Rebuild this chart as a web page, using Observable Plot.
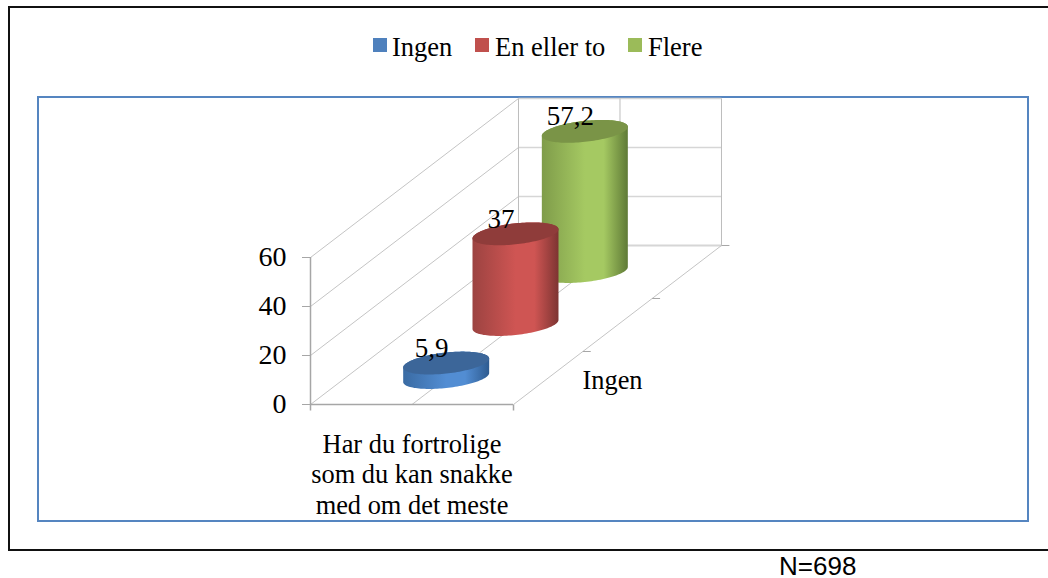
<!DOCTYPE html>
<html><head><meta charset="utf-8">
<script src="https://cdn.jsdelivr.net/npm/d3@7"></script>
<script src="https://cdn.jsdelivr.net/npm/@observablehq/plot@0.6"></script>
<style>
html,body{margin:0;padding:0;background:#fff;}
#page{position:relative;width:1048px;height:578px;overflow:hidden;font-family:"Liberation Serif",serif;color:#000;}
#page svg{position:absolute;left:0;top:0;background:transparent;}
.box{position:absolute;box-sizing:border-box;}
.lg{position:absolute;font-size:26.5px;line-height:30px;white-space:nowrap;top:32px;}
.sw{position:absolute;width:14px;height:14px;top:38px;}
#note{position:absolute;left:779px;top:555px;font:26px/23px "Liberation Sans",sans-serif;}
</style></head><body>
<div id="page">
<div class="box" style="left:8px;top:6px;width:1042px;height:545px;border:2px solid #111;"></div>
<div class="box" style="left:37px;top:96px;width:992px;height:426px;border:2px solid #5585c0;"></div>
<div class="sw" style="left:373px;background:#4f81bd"></div><div class="lg" style="left:392px">Ingen</div>
<div class="sw" style="left:475px;background:#c0504d"></div><div class="lg" style="left:495px">En eller to</div>
<div class="sw" style="left:628px;background:#9bbb59"></div><div class="lg" style="left:648px">Flere</div>
<div id="note">N=698</div>
</div>
<script>
const seriesNames = ["Ingen", "En eller to", "Flere"];
const seriesValues = [5.9, 37, 57.2];
const valueLabels = ["5,9", "37", "57,2"];
const valueTicks = [0, 20, 40, 60];
const categoryLabel = "Har du fortrolige\nsom du kan snakke\nmed om det meste";
const depthLabel = "Ingen";
const bodyStops = [["#3a6ba3","#528dd3","#2e5b90"],["#9c4341","#cf5553","#7d3432"],["#7f9c4a","#a5c962","#5f7a36"]];
const capColors = ["#3c6699","#8f3c3a","#7a9447"];

// oblique projection: depth (0..1) shifts the point along both chart scales
const depthX = 1.0246, depthY = 64.9;
const halfW = 0.2118, halfH = 4.29, tilt = 1.84;
const gridColor = "#c4c4c4", axisColor = "#a6a6a6";

const seg = (x1,d1,v1,x2,d2,v2) => ({x1:x1+d1*depthX, y1:v1+d1*depthY, x2:x2+d2*depthX, y2:v2+d2*depthY});
const leftWall = valueTicks.map(v => seg(0,0,v,0,1,v));
const backWall = valueTicks.slice(1).map(v => seg(0,1,v,1,1,v));
const uprights = [0,0.5,1].map(x => seg(x,1,0,x,1,60));
const floor = [seg(0.5,0,0,0.5,1,0), seg(1,0,0,1,1,0)];
const ticksDown = [0,1].map(x => ({x1:x,x2:x,y1:0,y2:-2.45}));
const ticksRight = [1/3,2/3,1].map(d => { const s = seg(1,d,0,1,d,0); return {...s, x2:s.x1+0.039}; });

const outline = (cx, base, top) => d3.range(0,61).map(i => {
  const u = -Math.cos(Math.PI*i/60), r = Math.sqrt(Math.max(0,1-u*u));
  return {x: cx+u*halfW, lo: base-halfH*r+tilt*u, hi: top+halfH*r+tilt*u, capLo: top-halfH*r+tilt*u};
});
const cyl = seriesValues.map((v,i) => {
  const d = (i+0.5)/3, cx = 0.5+d*depthX, base = d*depthY;
  return {i, cx, top: base+v, pts: outline(cx, base, base+v)};
});
const cylMarks = [2,1,0].flatMap(i => [
  Plot.area(cyl[i].pts, {x1:"x", y1:"lo", y2:"hi", fill:`url(#g${i})`, curve:"linear"}),
  Plot.area(cyl[i].pts, {x1:"x", y1:"capLo", y2:"hi", fill:capColors[i], curve:"linear"})
]);
const serif = "Liberation Serif";
const plot = Plot.plot({
  width:1048, height:578,
  marginLeft:310, marginRight:535, marginTop:257, marginBottom:174,
  x:{domain:[0,1], axis:null},
  y:{domain:[0,60]},
  style:{background:"transparent", overflow:"visible"},
  marks:[
    Plot.link(leftWall,{x1:"x1",y1:"y1",x2:"x2",y2:"y2",stroke:gridColor,strokeWidth:1}),
    Plot.link(backWall,{x1:"x1",y1:"y1",x2:"x2",y2:"y2",stroke:"#d6d6d6",strokeWidth:1.5}),
    Plot.link(uprights,{x1:"x1",y1:"y1",x2:"x2",y2:"y2",stroke:"#bdbdbd",strokeWidth:1}),
    Plot.link([seg(0,1,0,1,1,0)],{x1:"x1",y1:"y1",x2:"x2",y2:"y2",stroke:"#d6d6d6",strokeWidth:2}),
    Plot.link(floor,{x1:"x1",y1:"y1",x2:"x2",y2:"y2",stroke:gridColor,strokeWidth:1}),
    Plot.link(ticksDown,{x1:"x1",y1:"y1",x2:"x2",y2:"y2",stroke:axisColor,strokeWidth:1.5}),
    Plot.link(ticksRight,{x1:"x1",y1:"y1",x2:"x2",y2:"y2",stroke:axisColor,strokeWidth:1}),
    Plot.ruleX([0],{y1:0,y2:60,stroke:axisColor,strokeWidth:1.5}),
    Plot.ruleY([0],{stroke:axisColor,strokeWidth:1.5}),
    Plot.axisY({ticks:valueTicks,tickSize:8,tickPadding:16,label:null,stroke:axisColor,fill:"#000",fontSize:28,fontFamily:serif,tickFormat:d=>String(d)}),
    ...cylMarks,
    Plot.text(cyl,{x:"cx",y:"top",text:d=>valueLabels[d.i],dx:-15,dy:-15,fontSize:27,fontFamily:serif,fill:"#000"}),
    Plot.text([categoryLabel],{x:()=>0.5,y:()=>0,text:d=>d,dy:69,lineHeight:1.16,lineAnchor:"middle",fontSize:26.4,fontFamily:serif,fill:"#000"}),
    Plot.text([depthLabel],{x:()=>1+0.5*depthX,y:()=>0.5*depthY,text:d=>d,dx:-5,dy:56,fontSize:26.4,fontFamily:serif,fill:"#000"})
  ]
});
const defs = d3.select(plot).insert("defs",":first-child");
bodyStops.forEach((s,i)=>{
  const g = defs.append("linearGradient").attr("id",`g${i}`).attr("x1",0).attr("x2",1).attr("y1",0).attr("y2",0);
  [[0,s[0]],[0.5,s[1]],[0.72,s[1]],[1,s[2]]].forEach(([o,c])=>g.append("stop").attr("offset",o).attr("stop-color",c));
});
document.getElementById("page").appendChild(plot);
</script>
</body></html>
